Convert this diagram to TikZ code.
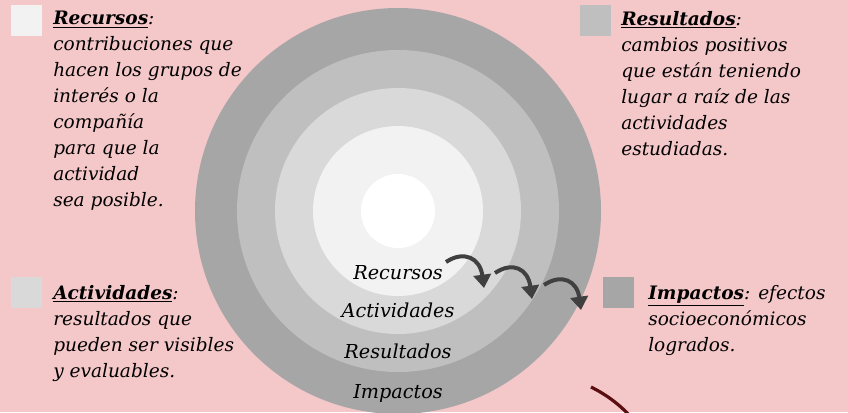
\documentclass[tikz,border=0pt]{standalone}
\usepackage{fontspec}
\setmainfont{DejaVu Serif}
\usetikzlibrary{arrows.meta}
\definecolor{fondo}{HTML}{F4C7C9}
\definecolor{anillo0}{HTML}{FFFFFF}
\definecolor{anillo1}{HTML}{F2F2F2}
\definecolor{anillo2}{HTML}{D9D9D9}
\definecolor{anillo3}{HTML}{BFBFBF}
\definecolor{anillo4}{HTML}{A6A6A6}
\definecolor{flechagris}{HTML}{404040}
\definecolor{granate}{HTML}{5A0E10}

\begin{document}
\begin{tikzpicture}[x=0.75pt,y=-0.75pt,
  leyenda/.style={anchor=north west,align=left,inner sep=0pt,font=\itshape\fontsize{13.9}{19.5}\selectfont},
  cuadro/.style={minimum size=23.25pt,inner sep=0pt,anchor=north west},
  etiqueta/.style={font=\itshape\fontsize{14.4}{16}\selectfont},
  flecha/.style={-{Triangle[width=13pt,length=10pt]},line width=3pt,draw=flechagris}]
  \fill[fondo] (0,0) rectangle (848,412);
  \useasboundingbox (0,0) rectangle (848,412);

  \fill[anillo4] (398,211) circle[radius=152.25pt];
  \fill[anillo3] (398,211) circle[radius=120.75pt];
  \fill[anillo2] (398,211) circle[radius=92.25pt];
  \fill[anillo1] (398,211) circle[radius=63.75pt];
  \fill[anillo0] (398,211) circle[radius=27.75pt];

  \node[etiqueta] (recursos) at (398,273) {Recursos};
  \node[etiqueta] (actividades) at (398,310) {Actividades};
  \node[etiqueta] (resultados) at (398,351) {Resultados};
  \node[etiqueta] (impactos) at (398,393) {Impactos};

  \coordinate (f1a) at (446,262);
  \coordinate (f1b) at (484,288);
  \coordinate (f2a) at (495,273);
  \coordinate (f2b) at (532,299);
  \coordinate (f3a) at (544,285);
  \coordinate (f3b) at (581,310);
  \draw[flecha] (f1a) .. controls (464,250) and (480,258) .. (f1b);
  \draw[flecha] (f2a) .. controls (513,261) and (528,269) .. (f2b);
  \draw[flecha] (f3a) .. controls (562,273) and (577,281) .. (f3b);

  \node[cuadro,fill=anillo1] (c1) at (11,5) {};
  \node[cuadro,fill=anillo3] (c2) at (580,5) {};
  \node[cuadro,fill=anillo2] (c3) at (11,277) {};
  \node[cuadro,fill=anillo4] (c4) at (603,277) {};

  \node[leyenda] (t1) at (53,11) {\underline{\textbf{Recursos}}:\\contribuciones que\\hacen los grupos de\\interés o la\\compañía\\para que la\\actividad\\sea posible.};
  \node[leyenda] (t2) at (621,11) {\underline{\textbf{Resultados}}:\\cambios positivos\\que están teniendo\\lugar a raíz de las\\actividades\\estudiadas.};
  \node[leyenda] (t3) at (53,285) {\underline{\textbf{Actividades}}:\\resultados que\\pueden ser visibles\\y evaluables.};
  \node[leyenda] (t4) at (648,285) {\underline{\textbf{Impactos}}: efectos\\socioeconómicos\\logrados.};

  \coordinate (g1) at (591,387);
  \coordinate (g2) at (630,416);
  \draw[granate,line width=2.4pt] (g1) .. controls (605,394) and (618,403) .. (g2);
\end{tikzpicture}
\end{document}
